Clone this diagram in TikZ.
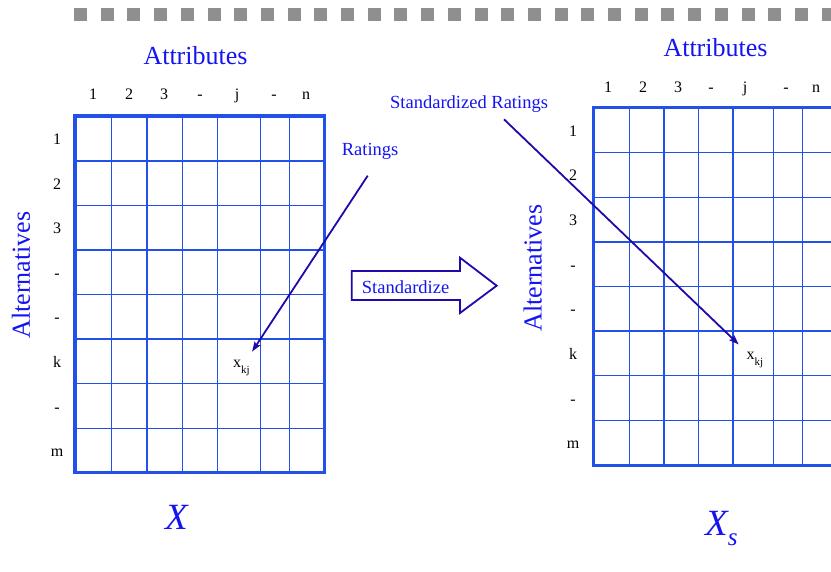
\documentclass[tikz,border=0pt]{standalone}
\usepackage{fontspec}
\setmainfont{Liberation Serif}
\usetikzlibrary{arrows.meta}

\definecolor{gridblue}{RGB}{35,80,232}
\definecolor{textblue}{RGB}{20,20,240}
\definecolor{ptrnavy}{RGB}{30,10,170}
\definecolor{dashgray}{RGB}{143,143,143}

\tikzset{
  gridline/.style={gridblue, line width=1.3pt},
  gridframe/.style={gridblue, line width=3.4pt},
  headlbl/.style={textblue, font=\fontsize{26}{30}\selectfont, inner sep=0pt},
  idxlbl/.style={black, font=\fontsize{16}{18}\selectfont, inner sep=0pt, anchor=base},
  notelbl/.style={textblue, font=\fontsize{18.5}{21}\selectfont, inner sep=0pt},
  entrylbl/.style={black, font=\fontsize{16}{18}\selectfont, inner sep=1pt, outer sep=7pt, anchor=base},
  matname/.style={textblue, font=\fontsize{37}{40}\selectfont\itshape, inner sep=0pt, anchor=base west},
  ptr/.style={ptrnavy, line width=1.8pt, -{Stealth[length=10pt,width=7pt,inset=2pt]}},
  blockarrow/.style={ptrnavy, line width=1.8pt, line join=miter},
}

\begin{document}
\begin{tikzpicture}[x=1pt, y=-1pt]
  \useasboundingbox (0,0) rectangle (831,572);

  % Title bar squares
  \foreach \i in {0,...,28}
    \fill[dashgray] (74+26.7*\i,8.5) rectangle ++(13,13);

  % Left matrix
  \foreach \x in {111.7,147,182.3,217.7,260.7,289.3}
    \draw[gridline] (\x,116) -- (\x,472.3);
  \foreach \y in {161,205.7,250,294.7,339,383.7,428.7}
    \draw[gridline] (75,\y) -- (324.3,\y);
  \draw[gridframe] (75,116) rectangle (324.3,472.3);

  % Left labels
  \node[headlbl, anchor=base west] (lattr) at (143.3,65) {Attributes};
  \node[headlbl, anchor=base, rotate=90] (lalt) at (30,275) {Alternatives};
  \foreach \x/\t [count=\i] in {93/1,129/2,164/3,200/-,237/j,274/-,306/n}
    \node[idxlbl] (lcol\i) at (\x,100) {\t};
  \foreach \y/\t [count=\i] in {144.5/1,189.3/2,233.8/3,278.3/-,322.8/-,367/k,412.2/-,456.5/m}
    \node[idxlbl] (lrow\i) at (57,\y) {\t};
  \node[entrylbl] (xkj) at (241.5,367) {x\raisebox{-6.5pt}{\fontsize{11}{12}\selectfont kj}};
  \node[matname] (xmat) at (165,529.3) {X};

  % Right matrix
  \foreach \x in {629.3,664,698.7,733,773.3,802.7}
    \draw[gridline] (\x,107.7) -- (\x,465.7);
  \foreach \y in {152.7,197.3,242,286.7,331,375.7,420.3}
    \draw[gridline] (593.3,\y) -- (840,\y);
  \draw[gridframe] (593.3,107.7) rectangle (838,465.7);

  % Right labels
  \node[headlbl, anchor=base west] (rattr) at (663.3,56.7) {Attributes};
  \node[headlbl, anchor=base, rotate=90] (ralt) at (541.7,268) {Alternatives};
  \foreach \x/\t [count=\i] in {608/1,643/2,678/3,711/-,745/j,786/-,816/n}
    \node[idxlbl] (rcol\i) at (\x,92.3) {\t};
  \foreach \y/\t [count=\i] in {136.2/1,181/2,225.6/3,270.3/-,314.8/-,359.3/k,404/-,449/m}
    \node[idxlbl] (rrow\i) at (573,\y) {\t};
  \node[entrylbl] (xkjs) at (755,359.3) {x\raisebox{-6.5pt}{\fontsize{11}{12}\selectfont kj}};
  \node[matname] (xsmat) at (705,535) {X\raisebox{-10pt}{\fontsize{25}{28}\selectfont s}};

  % Standardize arrow
  \draw[blockarrow] (351.7,271) -- (460,271) -- (460,257.7) -- (496.7,285.7)
    -- (460,313) -- (460,300) -- (351.7,300) -- cycle;
  \node[notelbl, anchor=base west] (std) at (361.7,293.3) {Standardize};

  % Notes and pointers
  \node[notelbl, anchor=base west] (rate) at (341.7,156) {Ratings};
  \node[notelbl, anchor=base west] (srate) at (390,108.3) {Standardized Ratings};
  \coordinate (ratetail) at (367.7,175.7);
  \coordinate (sratetail) at (504,119.3);
  \draw[ptr] (ratetail) -- (xkj);
  \draw[ptr] (sratetail) -- (xkjs);
\end{tikzpicture}
\end{document}
